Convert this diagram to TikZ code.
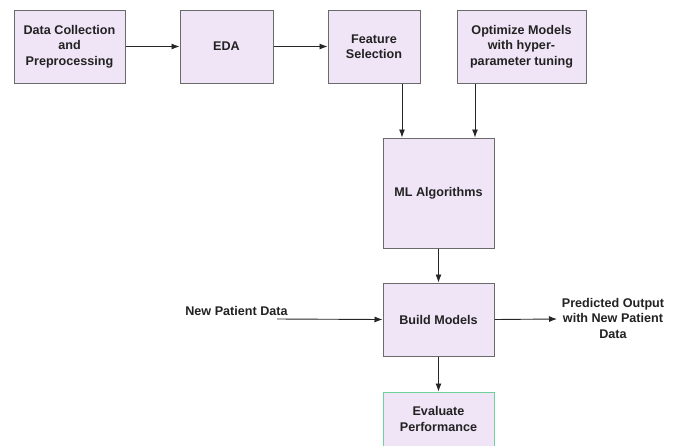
\documentclass[tikz,border=0pt]{standalone}
\usepackage{fontspec}
\setmainfont{Liberation Sans}
\usetikzlibrary{arrows.meta}
\definecolor{boxfill}{HTML}{F0E4F7}
\definecolor{boxline}{HTML}{6A6A6A}
\definecolor{evalline}{HTML}{6CD49A}
\definecolor{txt}{HTML}{222222}
\begin{document}
\begin{tikzpicture}[x=1pt,y=-1pt,
  procbox/.style={draw=boxline, fill=boxfill, line width=1pt, font=\bfseries\fontsize{12.6}{15.5}\selectfont, text=txt, align=center, inner sep=0pt},
  lbl/.style={font=\bfseries\fontsize{12.6}{15.5}\selectfont, text=txt, align=center, inner sep=0pt},
  flow/.style={-{Latex[length=8pt,width=6pt]}, line width=0.9pt, draw=black!85}]
\clip (0,0) rectangle (682,445);
\fill[white] (0,0) rectangle (682,445);
\node[procbox, minimum width=111pt, minimum height=73pt] (dc) at (69.5,46.5) {Data Collection\\and\\Preprocessing};
\node[procbox, minimum width=93pt, minimum height=73pt] (eda) at (226.5,46.5) {EDA};
\node[procbox, minimum width=92pt, minimum height=73pt] (fs) at (374,46.5) {Feature\\Selection};
\node[procbox, minimum width=129pt, minimum height=73pt] (opt) at (521.5,46.5) {Optimize Models\\with hyper-\\parameter tuning};
\node[procbox, minimum width=111pt, minimum height=110pt] (ml) at (438.5,193) {ML Algorithms};
\node[procbox, minimum width=111pt, minimum height=73pt] (bm) at (438.5,319.5) {Build Models};
\node[procbox, draw=evalline, minimum width=111pt, minimum height=73pt] (ev) at (438.5,428.5) {Evaluate\\Performance\\[4pt]};
\node[lbl] (npd) at (236.5,311) {New Patient Data};
\coordinate (npstart) at (277,319);
\coordinate (outend) at (557,319);
\node[lbl] (out) at (613,318) {Predicted Output\\with New Patient\\Data};
\draw[flow] (dc.east) -- (eda.west);
\draw[flow] (eda.east) -- (fs.west);
\draw[flow] (402,0 |- fs.south) -- (402,0 |- ml.north);
\draw[flow] (475,0 |- opt.south) -- (475,0 |- ml.north);
\draw[flow] (ml.south) -- (bm.north);
\draw[flow] (npstart) -- (bm.west);
\draw[flow] (bm.east) -- (outend);
\draw[flow] (bm.south) -- (ev.north);
\end{tikzpicture}
\end{document}
